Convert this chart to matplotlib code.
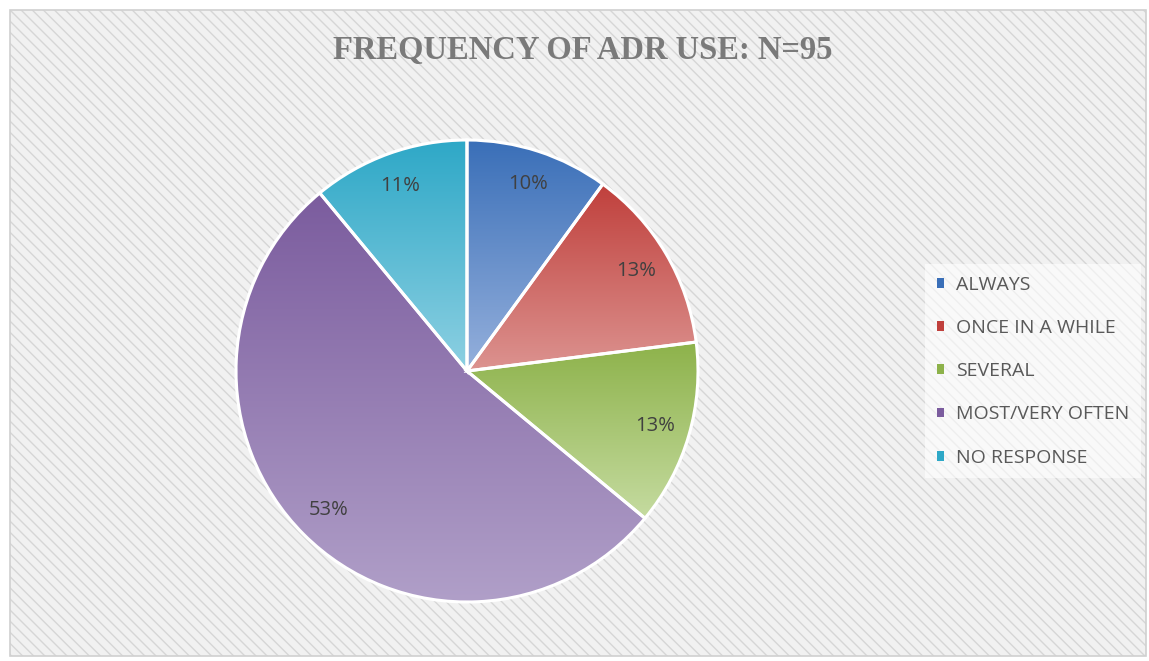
import matplotlib.pyplot as plt
import numpy as np
from matplotlib.patches import Rectangle, Patch
from matplotlib.colors import LinearSegmentedColormap

# data
labels = ["ALWAYS", "ONCE IN A WHILE", "SEVERAL", "MOST/VERY OFTEN", "NO RESPONSE"]
values = [10, 13, 13, 53, 11]
top_colors = ["#3a6fb8", "#c0403c", "#8db24a", "#7b5c9e", "#2ea8c7"]
bottom_colors = ["#95b0dc", "#dc9390", "#c5dba0", "#b09fc8", "#8dd0e2"]

plt.rcParams['hatch.linewidth'] = 1.0

W, H = 1149, 661
fig = plt.figure(figsize=(W / 100, H / 100), dpi=100, facecolor="white")

# striped background + frame
bg = Rectangle((10 / W, 5 / H), 1136 / W, 646 / H, transform=fig.transFigure,
               facecolor="#f1f1f1", edgecolor="#d6d6d6", hatch="\\\\\\", lw=0, zorder=-2)
fig.patches.append(bg)
frame = Rectangle((10 / W, 5 / H), 1136 / W, 646 / H, transform=fig.transFigure,
                  facecolor="none", edgecolor="#d0d0d0", lw=1.2, zorder=-1)
fig.patches.append(frame)

# pie axes: center (467, 371) px, radius ~231 px
cx, cy, r = 467, H - 371, 231
half = r * 1.1
ax = fig.add_axes([(cx - half) / W, (cy - half) / H, 2 * half / W, 2 * half / H])
ax.set_facecolor("none")

wedges, texts, autotexts = ax.pie(
    values, startangle=90, counterclock=False, autopct="%1.0f%%",
    pctdistance=0.85, radius=1.0,
    wedgeprops=dict(facecolor="none", edgecolor="white", linewidth=2.2, zorder=3),
    textprops=dict(fontsize=14.5, color="#404040", family="Open Sans"))

grad = np.linspace(0, 1, 256).reshape(-1, 1)
for w, c0, c1 in zip(wedges, top_colors, bottom_colors):
    ext = w.get_path().get_extents()
    cmap = LinearSegmentedColormap.from_list("g", [c0, c1])
    im = ax.imshow(grad, cmap=cmap, aspect="auto", origin="upper",
                   extent=[ext.x0, ext.x1, ext.y0, ext.y1], zorder=2)
    im.set_clip_path(w)
ax.set_xlim(-1.1, 1.1)
ax.set_ylim(-1.1, 1.1)
ax.axis("off")
for t in autotexts:
    t.set_zorder(5)

# title
fig.text(583 / W, 1 - 51 / H, "FREQUENCY OF ADR USE: N=95", ha="center", va="center",
         fontsize=23.5, fontweight="bold", color="#7a7a7a", family="Liberation Serif")

# legend
handles = [Patch(facecolor=c, edgecolor="none") for c in top_colors]
leg = fig.legend(handles, labels, loc="upper left",
                 bbox_to_anchor=(925 / W, 1 - 264 / H),
                 frameon=True, facecolor="white", edgecolor="none", framealpha=0.6,
                 fancybox=False, handlelength=0.4, handleheight=0.4,
                 handletextpad=0.6, labelspacing=1.3, borderpad=0.6,
                 borderaxespad=0, prop=dict(family="Open Sans", size=14))
for t in leg.get_texts():
    t.set_color("#595959")

plt.savefig("out.png", dpi=100, facecolor=fig.get_facecolor())
plt.close()
